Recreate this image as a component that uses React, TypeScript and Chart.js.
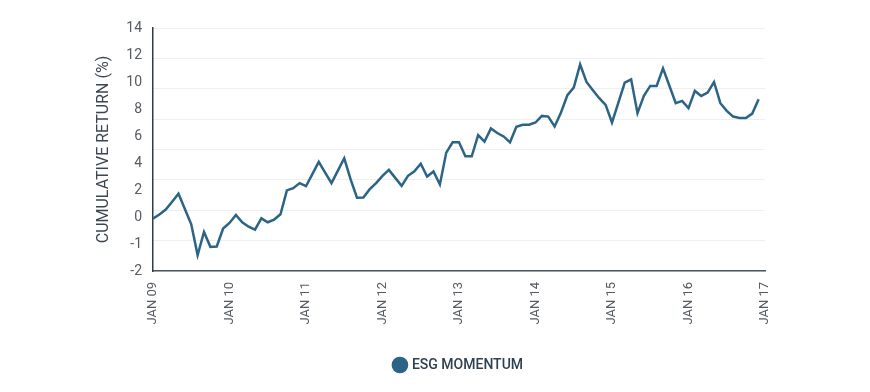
import React, { useEffect, useRef } from 'react';
import { Chart, registerables } from 'chart.js';

Chart.register(...registerables);

// Year tick labels shown on the x axis (every 12 months)
const yearTicks = ['JAN 09', 'JAN 10', 'JAN 11', 'JAN 12', 'JAN 13', 'JAN 14', 'JAN 15', 'JAN 16', 'JAN 17'];
const monthNames = ['JAN', 'FEB', 'MAR', 'APR', 'MAY', 'JUN', 'JUL', 'AUG', 'SEP', 'OCT', 'NOV', 'DEC'];
const yearSuffixes = ['09', '10', '11', '12', '13', '14', '15', '16', '17'];

// Monthly categories Jan 09 .. Jan 17
const categories: string[] = [];
yearSuffixes.forEach((y, yi) => {
  monthNames.forEach((m, mi) => {
    if (yi < yearSuffixes.length - 1 || mi === 0) categories.push(`${m} ${y}`);
  });
});

// ESG Momentum cumulative return (%), monthly
const esgMomentum = [
  -0.12, 0.18, 0.55, 1.13, 1.72, 0.59, -0.54, -2.82, -1.11, -2.21, -2.18, -0.85,
  -0.44, 0.15, -0.39, -0.72, -0.93, -0.10, -0.39, -0.19, 0.20, 1.97, 2.14, 2.51,
  2.28, 3.18, 4.08, 3.29, 2.51, 3.43, 4.35, 2.78, 1.43, 1.45, 2.06, 2.51,
  3.05, 3.49, 2.90, 2.31, 3.05, 3.39, 3.94, 3.00, 3.37, 2.41, 4.77, 5.53,
  5.53, 4.50, 4.50, 6.07, 5.58, 6.56, 6.22, 5.97, 5.53, 6.68, 6.83, 6.83,
  7.00, 7.49, 7.44, 6.71, 7.74, 9.02, 9.58, 11.30, 10.00, 9.39, 8.80, 8.31,
  7.00, 8.47, 9.95, 10.20, 7.69, 8.97, 9.71, 9.71, 11.01, 9.72, 8.43, 8.60,
  8.06, 9.34, 8.97, 9.21, 10.00, 8.43, 7.86, 7.44, 7.33, 7.33, 7.66, 8.73,
];

// Y axis tick values and the labels printed at them
const yTickValues = [-4, -2, 0, 2, 4, 6, 8, 10, 12, 14];
const yTickLabels = ['-2', '-1', '0', '2', '4', '6', '8', '10', '12', '14'];

const seriesName = 'ESG MOMENTUM';
const yTitle = 'CUMULATIVE RETURN (%)';

// Shift the legend horizontally so it sits where the reference places it
const legendShift = {
  id: 'legendShift',
  afterLayout(chart: any) {
    const lg = chart.legend;
    if (lg) {
      lg.left += 31;
      lg.right += 31;
    }
  },
};

export default function App() {
  const canvasRef = useRef<HTMLCanvasElement | null>(null);

  useEffect(() => {
    if (!canvasRef.current) return;
    const chart = new Chart(canvasRef.current, {
      type: 'line',
      data: {
        labels: categories,
        datasets: [
          {
            label: seriesName,
            data: esgMomentum,
            borderColor: '#2b6487',
            backgroundColor: '#2b6487',
            borderWidth: 2.5,
            pointRadius: 0,
            tension: 0,
            yAxisID: 'y',
          },
        ],
      },
      plugins: [legendShift],
      options: {
        responsive: false,
        animation: false,
        layout: { padding: { left: 91, right: 105, top: 28, bottom: 10 } },
        plugins: {
          tooltip: { enabled: false },
          legend: {
            position: 'bottom',
            labels: {
              usePointStyle: true,
              pointStyle: 'circle',
              boxWidth: 10,
              boxHeight: 10,
              padding: 10,
              color: '#2e3f4f',
              font: { family: 'Roboto', size: 14, weight: '500' },
            },
          },
        },
        scales: {
          x: {
            type: 'category',
            grid: { display: false, drawTicks: false },
            border: { display: true, color: '#4a5662', width: 1.5 },
            afterFit: (scale: any) => { scale.height = 77; },
            ticks: {
              autoSkip: false,
              maxRotation: 90,
              minRotation: 90,
              padding: 11,
              color: '#555b61',
              font: { family: 'Roboto', size: 13 },
              callback: (_v: any, idx: number) => (idx % 12 === 0 ? yearTicks[idx / 12] : ''),
            },
          },
          y: {
            type: 'linear',
            position: 'left',
            min: -4,
            max: 14,
            afterFit: (scale: any) => { scale.width = 62; },
            afterBuildTicks: (scale: any) => { scale.ticks = yTickValues.map((v) => ({ value: v })); },
            grid: { display: false, drawTicks: false },
            border: { display: true, color: '#2f3d4a', width: 1.5 },
            ticks: {
              padding: 11,
              color: '#555b61',
              font: { family: 'Roboto', size: 14 },
              callback: (v: any) => {
                const i = yTickValues.indexOf(Number(v));
                return i >= 0 ? yTickLabels[i] : '';
              },
            },
            title: {
              display: true,
              text: yTitle,
              color: '#3b4650',
              font: { family: 'Roboto', size: 16 },
              padding: { top: 3, bottom: 3 },
            },
          },
          yGrid: {
            type: 'linear',
            position: 'right',
            min: -2,
            max: 14,
            ticks: { display: false, stepSize: 2 },
            grid: { display: true, drawTicks: false, color: '#efefef', lineWidth: 1 },
            border: { display: false },
            afterFit: (scale: any) => { scale.width = 0; },
          },
        },
      },
    });
    return () => chart.destroy();
  }, []);

  return (
    <div style={{ position: 'absolute', left: 0, top: 0, width: 870, height: 392, background: '#fff' }}>
      <canvas ref={canvasRef} width={870} height={392} />
    </div>
  );
}
